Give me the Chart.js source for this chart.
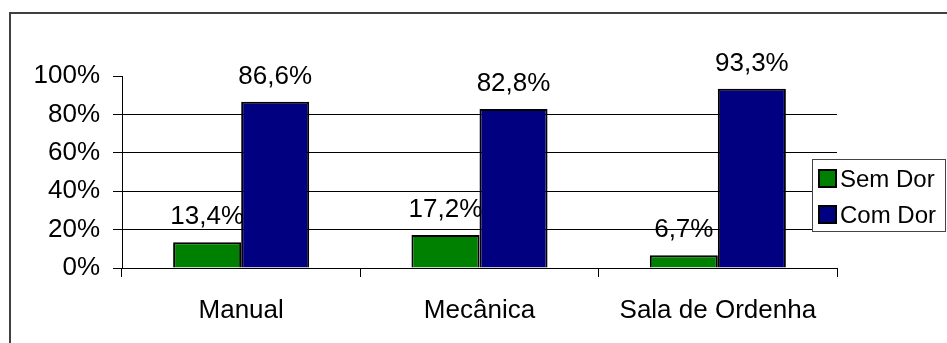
<!DOCTYPE html>
<html>
<head>
<meta charset="utf-8">
<script src="https://cdn.jsdelivr.net/npm/chart.js@4.4.0/dist/chart.umd.min.js"></script>
<style>
    body { margin: 0; background: #fff; }
    canvas { display: block; }
</style>
</head>
<body>
<canvas id="dorChart" width="947" height="343"></canvas>
<script>
// Chart data
const categories = ['Manual', 'Mecânica', 'Sala de Ordenha'];
const seriesNames = ['Sem Dor', 'Com Dor'];
const semDor = [13.4, 17.2, 6.7];
const comDor = [86.6, 82.8, 93.3];
const yTicks = [0, 20, 40, 60, 80, 100];

const FONT = '"Liberation Sans", Arial, sans-serif';

function fmtPct(v) {
    return v.toFixed(1).replace('.', ',') + '%';
}

// value labels above each bar
const barLabels = {
    id: 'barLabels',
    afterDatasetsDraw(chart) {
        const ctx = chart.ctx;
        ctx.save();
        ctx.font = '26px ' + FONT;
        ctx.fillStyle = '#000';
        ctx.textAlign = 'center';
        ctx.textBaseline = 'alphabetic';
        chart.data.datasets.forEach((ds, i) => {
            const meta = chart.getDatasetMeta(i);
            meta.data.forEach((bar, j) => {
                ctx.fillText(fmtPct(ds.data[j]), bar.x, bar.y - 18);
            });
        });
        ctx.restore();
    }
};

// legend box + outer frame, drawn like the Excel original
const frameAndLegend = {
    id: 'frameAndLegend',
    afterDraw(chart) {
        const ctx = chart.ctx;
        ctx.save();

        // legend
        ctx.fillStyle = '#fff';
        ctx.fillRect(812, 159, 134, 72);
        ctx.strokeStyle = '#444';
        ctx.lineWidth = 1;
        ctx.strokeRect(812.5, 159.5, 133, 72);

        ctx.font = '24px ' + FONT;
        ctx.textAlign = 'left';
        ctx.textBaseline = 'alphabetic';
        chart.data.datasets.forEach((ds, i) => {
            const top = 170 + i * 36;
            ctx.fillStyle = ds.backgroundColor;
            ctx.fillRect(819, top, 17, 17);
            ctx.strokeStyle = '#000';
            ctx.lineWidth = 2;
            ctx.strokeRect(819, top, 17, 17);
            ctx.fillStyle = '#000';
            ctx.fillText(ds.label, 840, top + 17);
        });

        // outer frame (cropped on right/bottom)
        ctx.strokeStyle = '#404040';
        ctx.lineWidth = 2;
        ctx.strokeRect(10, 13, 1200, 600);
        ctx.restore();
    }
};

const ctx = document.getElementById('dorChart').getContext('2d');

new Chart(ctx, {
    type: 'bar',
    data: {
        labels: categories,
        datasets: [{
            label: seriesNames[0],
            data: semDor,
            backgroundColor: '#008000',
            borderColor: '#000',
            borderWidth: 2
        }, {
            label: seriesNames[1],
            data: comDor,
            backgroundColor: '#000080',
            borderColor: '#000',
            borderWidth: 2
        }]
    },
    options: {
        responsive: false,
        animation: false,
        events: [],
        datasets: {
            bar: {
                categoryPercentage: 0.571,
                barPercentage: 1
            }
        },
        layout: {
            padding: { top: 76, right: 110, bottom: 0, left: 0 }
        },
        scales: {
            x: {
                afterFit: (scale) => { scale.height = 75; },
                grid: {
                    display: true,
                    drawOnChartArea: false,
                    drawTicks: true,
                    tickLength: 9,
                    color: '#000',
                    offset: true
                },
                border: { display: true, color: '#000', width: 1 },
                ticks: {
                    color: '#000',
                    font: { family: FONT, size: 26 },
                    padding: 18,
                    maxRotation: 0
                }
            },
            y: {
                min: 0,
                max: 100,
                afterFit: (scale) => { scale.width = 122; },
                afterBuildTicks: (scale) => {
                    scale.ticks = yTicks.map(v => ({ value: v }));
                },
                grid: {
                    color: (c) => (c.tick && (c.tick.value === 100 || c.tick.value === 0)) ? 'rgba(0,0,0,0)' : '#000',
                    tickColor: '#000',
                    tickLength: 9,
                    lineWidth: 1
                },
                border: { display: true, color: '#000', width: 1 },
                ticks: {
                    color: '#000',
                    font: { family: FONT, size: 26 },
                    padding: 13,
                    callback: (v) => v + '%'
                }
            }
        },
        plugins: {
            legend: { display: false },
            tooltip: { enabled: false }
        }
    },
    plugins: [barLabels, frameAndLegend]
});
</script>
</body>
</html>
